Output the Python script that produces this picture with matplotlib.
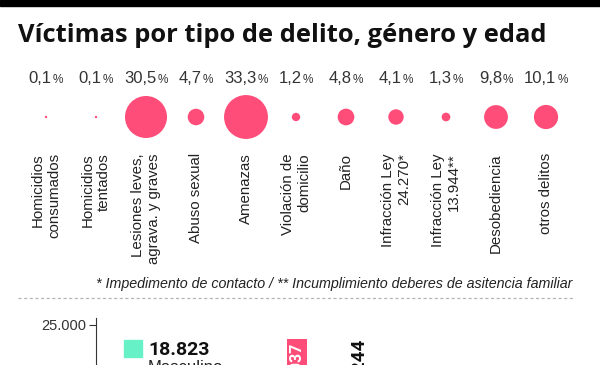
import matplotlib
matplotlib.use("Agg")
import matplotlib.pyplot as plt
from matplotlib.patches import Rectangle
from matplotlib.lines import Line2D

# datos
categorias = ["Homicidios\nconsumados", "Homicidios\ntentados", "Lesiones leves,\nagrava. y graves",
              "Abuso sexual", "Amenazas", "Violación de\ndomicilio", "Daño",
              "Infracción Ley\n24.270*", "Infracción Ley\n13.944**", "Desobediencia", "otros delitos"]
porcentajes = [0.1, 0.1, 30.5, 4.7, 33.3, 1.2, 4.8, 4.1, 1.3, 9.8, 10.1]
etiquetas_pct = ["0,1", "0,1", "30,5", "4,7", "33,3", "1,2", "4,8", "4,1", "1,3", "9,8", "10,1"]

total_masculino = "18.823"
barras_valores = [23037, 14244]
barras_etiquetas = ["23.037", "14.244"]

ROSA = "#ff4d7a"
VERDE = "#66f2c6"
W, H = 600, 365

fig = plt.figure(figsize=(6, 3.65), dpi=100)
renderer = fig.canvas.get_renderer()

def fy(y):
    return 1 - y / H

# barra negra superior
fig.patches.append(Rectangle((0, fy(6)), 1, 6 / H, transform=fig.transFigure, color="black"))

titulo = fig.text(18 / W, fy(42), "Víctimas por tipo de delito, género y edad", fontsize=17,
                  fontweight="bold", family="Open Sans", color="#111", va="baseline")
# ajustar ancho del titulo
ancho = titulo.get_window_extent(renderer).width
titulo.set_fontsize(17 * 527 / ancho)

# burbujas
ax = fig.add_axes([0, fy(140), 1, 46 / H])
x = list(range(len(categorias)))
ax.scatter(x, [0.5] * len(x), s=[30 * p for p in porcentajes], color=ROSA, lw=0, zorder=3)
ax.set_xlim(-0.92, 11.08)
ax.set_ylim(0, 1)
for s in ax.spines.values():
    s.set_visible(False)
ax.set_yticks([])
ax.set_xticks(x)
ax.set_xticklabels(categorias, rotation=90, multialignment="right", fontsize=10.8,
                   family="Liberation Sans", color="#222")
ax.tick_params(axis="x", length=0, pad=9.4)

for i, lab in enumerate(etiquetas_pct):
    t1 = ax.annotate(lab, (i, 0.5), xytext=(0, 34), textcoords="offset pixels", ha="left",
                     va="baseline", fontsize=12, family="Liberation Sans", color="#333")
    t2 = ax.annotate("%", (i, 0.5), xytext=(0, 34), textcoords="offset pixels", ha="left",
                     va="baseline", fontsize=8.5, family="Liberation Sans", color="#333")
    w1 = t1.get_window_extent(renderer).width
    w2 = t2.get_window_extent(renderer).width
    start = -(w1 + w2 + 1) / 2
    t1.set_position((start, 34))
    t2.set_position((start + w1 + 1, 34))

fig.text(572 / W, fy(288), "* Impedimento de contacto / ** Incumplimiento deberes de asitencia familiar",
         ha="right", va="baseline", fontsize=10.3, style="italic", family="Liberation Sans", color="#222")

fig.add_artist(Line2D([18 / W, 575 / W], [fy(298), fy(298)], transform=fig.transFigure,
                      color="#b5b5b5", lw=0.9, ls=(0, (2.5, 2))))

# gráfico inferior (recortado)
ax2 = fig.add_axes([96 / W, fy(500), 504 / W, 182 / H])
ax2.bar([0, 1], barras_valores, width=0.33, color=[ROSA, VERDE])
ax2.set_xlim(-3.3, 4.97)
ax2.set_ylim(0, 26000)
for k in ["top", "right", "bottom"]:
    ax2.spines[k].set_visible(False)
ax2.spines["left"].set_color("#333")
ax2.set_xticks([])
ax2.set_yticks([25000])
ax2.set_yticklabels(["25.000"], fontsize=10.5, family="Liberation Sans", color="#333")
ax2.tick_params(axis="y", length=5, color="#333", pad=2)
ax2.annotate(barras_etiquetas[0], (0, barras_valores[0]), xytext=(0, -4), textcoords="offset pixels",
             rotation=90, ha="center", va="top", color="white", fontsize=11.5, fontweight="bold",
             family="Roboto")
ax2.annotate(barras_etiquetas[1], (1, barras_valores[1]), xytext=(0, 3), textcoords="offset pixels",
             rotation=90, ha="center", va="bottom", color="#111", fontsize=13.5, fontweight="bold",
             family="Roboto")

fig.patches.append(Rectangle((124 / W, fy(357)), 18 / W, 17 / H, transform=fig.transFigure, color=VERDE))
fig.text(148 / W, fy(355), total_masculino, fontsize=14, fontweight="bold", family="Roboto",
         color="#111", va="baseline")
fig.text(148 / W, fy(360), "Masculino", fontsize=12, family="Liberation Sans", color="#222", va="top")

fig.savefig("out.png", dpi=100)
